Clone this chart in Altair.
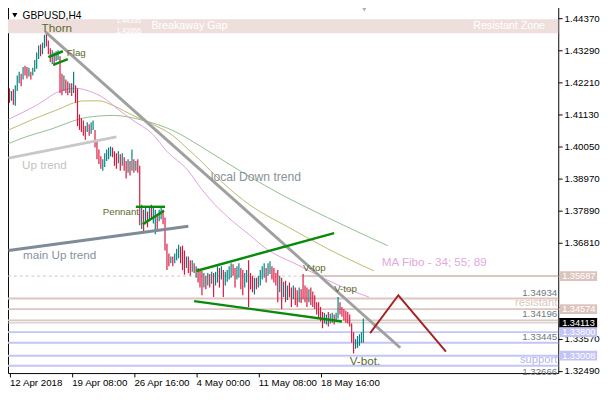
import altair as alt
import pandas as pd

# ---------------- values ----------------
bar_high = [
    1.4201, 1.4192, 1.4198, 1.4211, 1.4244, 1.4257, 1.4250, 1.4273, 1.4277, 1.4273,
    1.4270, 1.4257, 1.4270, 1.4296, 1.4322, 1.4345, 1.4349, 1.4355, 1.4381, 1.4388,
    1.4362, 1.4336, 1.4329, 1.4322, 1.4326, 1.4329, 1.4309, 1.4250, 1.4244, 1.4231,
    1.4224, 1.4218, 1.4218, 1.4257, 1.4211, 1.4201, 1.4113, 1.4100, 1.4093, 1.4074,
    1.4087, 1.4080, 1.4087, 1.4093, 1.4061, 1.4021, 1.3995, 1.3972, 1.3962, 1.3982,
    1.3995, 1.4002, 1.4005, 1.4002, 1.3989, 1.3982, 1.3989, 1.3979, 1.3982, 1.3969,
    1.3956, 1.3962, 1.3956, 1.3995, 1.3962, 1.3956, 1.3962, 1.3940, 1.3809, 1.3792,
    1.3802, 1.3786, 1.3799, 1.3809, 1.3799, 1.3792, 1.3776, 1.3792, 1.3799, 1.3792,
    1.3766, 1.3678, 1.3645, 1.3635, 1.3635, 1.3645, 1.3661, 1.3674, 1.3668, 1.3671,
    1.3655, 1.3635, 1.3635, 1.3622, 1.3622, 1.3612, 1.3602, 1.3596, 1.3589, 1.3586,
    1.3579, 1.3570, 1.3579, 1.3576, 1.3583, 1.3579, 1.3583, 1.3602, 1.3596, 1.3602,
    1.3589, 1.3583, 1.3589, 1.3602, 1.3612, 1.3609, 1.3596, 1.3602, 1.3612, 1.3596,
    1.3589, 1.3579, 1.3589, 1.3622, 1.3579, 1.3570, 1.3563, 1.3563, 1.3570, 1.3589,
    1.3602, 1.3612, 1.3596, 1.3612, 1.3619, 1.3602, 1.3596, 1.3579, 1.3589, 1.3570,
    1.3563, 1.3550, 1.3553, 1.3537, 1.3547, 1.3530, 1.3537, 1.3530, 1.3521, 1.3530,
    1.3524, 1.3576, 1.3537, 1.3530, 1.3524, 1.3530, 1.3517, 1.3504, 1.3481, 1.3481,
    1.3465, 1.3448, 1.3445, 1.3439, 1.3448, 1.3442, 1.3445, 1.3439, 1.3445, 1.3498,
    1.3481, 1.3465, 1.3458, 1.3452, 1.3448, 1.3439, 1.3409, 1.3380, 1.3357, 1.3367,
    1.3373, 1.3380, 1.3426,
]
bar_low = [
    1.4152, 1.4159, 1.4146, 1.4142, 1.4192, 1.4218, 1.4208, 1.4231, 1.4244, 1.4234,
    1.4241, 1.4231, 1.4244, 1.4257, 1.4267, 1.4300, 1.4309, 1.4316, 1.4336, 1.4342,
    1.4316, 1.4290, 1.4283, 1.4277, 1.4293, 1.4296, 1.4185, 1.4178, 1.4192, 1.4185,
    1.4178, 1.4185, 1.4175, 1.4185, 1.4152, 1.4074, 1.4061, 1.4054, 1.4041, 1.4028,
    1.4054, 1.4041, 1.4048, 1.4061, 1.4002, 1.3962, 1.3946, 1.3930, 1.3923, 1.3936,
    1.3956, 1.3962, 1.3972, 1.3969, 1.3940, 1.3930, 1.3949, 1.3923, 1.3940, 1.3923,
    1.3897, 1.3917, 1.3907, 1.3923, 1.3917, 1.3923, 1.3917, 1.3740, 1.3727, 1.3720,
    1.3743, 1.3733, 1.3753, 1.3760, 1.3746, 1.3710, 1.3720, 1.3753, 1.3760, 1.3743,
    1.3655, 1.3589, 1.3602, 1.3612, 1.3602, 1.3612, 1.3622, 1.3629, 1.3612, 1.3589,
    1.3573, 1.3596, 1.3579, 1.3570, 1.3583, 1.3579, 1.3563, 1.3547, 1.3530, 1.3504,
    1.3530, 1.3524, 1.3537, 1.3530, 1.3543, 1.3498, 1.3537, 1.3547, 1.3530, 1.3557,
    1.3498, 1.3537, 1.3550, 1.3557, 1.3563, 1.3570, 1.3530, 1.3557, 1.3563, 1.3524,
    1.3504, 1.3530, 1.3547, 1.3465, 1.3524, 1.3514, 1.3507, 1.3524, 1.3530, 1.3537,
    1.3557, 1.3563, 1.3547, 1.3570, 1.3576, 1.3557, 1.3547, 1.3537, 1.3481, 1.3514,
    1.3458, 1.3498, 1.3481, 1.3488, 1.3498, 1.3465, 1.3491, 1.3471, 1.3465, 1.3481,
    1.3478, 1.3491, 1.3481, 1.3465, 1.3481, 1.3471, 1.3465, 1.3458, 1.3439, 1.3426,
    1.3416, 1.3393, 1.3409, 1.3406, 1.3399, 1.3409, 1.3412, 1.3406, 1.3416, 1.3426,
    1.3439, 1.3432, 1.3419, 1.3412, 1.3409, 1.3399, 1.3344, 1.3308, 1.3324, 1.3327,
    1.3334, 1.3344, 1.3344,
]
bar_dir = list(
    "duduuudud" "duduuuuduud"
    "dduduuddud" "dududddddd"
    "uduudddduu" "uuudddudud"
    "dudududdud" "ududuuduud"
    "ddduduuudd" "duddududdd"
    "udududuudu" "duuuudduud"
    "duuddduduu" "uuduuddddu"
    "dududduddu" "dddduddddd"
    "dduuduuduu" "dddddddduu" "uuu"
)

ma34_i = [-0.5, 13.5, 26, 33.5, 41, 48.5, 56, 63.5, 73.5, 81, 92, 98.5, 103.5, 112, 123.5, 132, 148.5, 168.5, 185]
ma34_p = [1.40966, 1.41424, 1.41915, 1.42014, 1.41915, 1.41686, 1.41294, 1.40934, 1.40475, 1.39886,
          1.39231, 1.38642, 1.38249, 1.37693, 1.37071, 1.36613, 1.36056, 1.35401, 1.34976]
ma55_i = [-0.5, 11, 23.5, 38.5, 46, 53.5, 63.5, 73.5, 83.5, 92, 98.5, 108.5, 123.5, 143.5, 163.5, 187.5]
ma55_p = [1.40606, 1.40934, 1.41261, 1.41588, 1.41588, 1.41424, 1.41097, 1.40802, 1.40442, 1.39951,
          1.39559, 1.38904, 1.38086, 1.37333, 1.36613, 1.35860]
ma89_i = [-0.5, 8.5, 20, 40, 53.5, 68.5, 83.5, 98.5, 118.5, 138.5, 163.5, 194.5]
ma89_p = [1.40148, 1.40377, 1.40606, 1.41032, 1.41097, 1.40934, 1.40606, 1.40050, 1.39231, 1.38478,
          1.37660, 1.36711]

down_i, down_p = [18.5, 201], [1.43912, 1.33274]
up_i, up_p = [-0.5, 55], [1.39657, 1.40377]
mainup_i, mainup_p = [-0.5, 92], [1.36547, 1.37366]
green_id = ["flag1", "flag1", "flag2", "flag2", "pen1", "pen1", "pen2", "pen2", "thi", "thi", "tlo", "tlo"]
green_i = [20, 27.5, 22.5, 30, 65, 80, 68.5, 79.5, 96, 167, 95, 171]
green_p = [1.43061, 1.43258, 1.42799, 1.42996, 1.38020, 1.38020, 1.37431, 1.37889,
           1.35860, 1.37136, 1.34845, 1.34158]
proj_i = [185.5, 200, 224.5]
proj_p = [1.33765, 1.35041, 1.33142]

zone_top, zone_bot = 1.44335, 1.43866
res_levels = [1.34934, 1.34574, 1.34196]
sup_levels = [1.33800, 1.33445, 1.33008, 1.32666]
dash_level = 1.35687
dash_solid_from = 151
bid_level = 1.34113

y_ticks = [1.44370, 1.43290, 1.42210, 1.41130, 1.40050, 1.38970, 1.37890, 1.36810,
           1.35730, 1.34650, 1.33570, 1.32490]
y_hidden = [1.35730, 1.34650]   # covered by the price boxes in the picture
x_tick_i = [0, 32, 64, 96, 128, 160]
x_tick_labels = ["12 Apr 2018", "19 Apr 08:00", "26 Apr 16:00", "4 May 00:00", "11 May 08:00", "18 May 16:00"]

box_p = [1.35687, 1.34574, 1.34113, 1.33800, 1.33008]
box_t = ["1.35687", "1.34574", "1.34113", "1.33800", "1.33008"]
box_c = ["#dcc4be", "#dcc4be", "#000000", "#c4c4f4", "#c4c4f4"]

right_p = [1.34934, 1.34574, 1.34196, 1.33445, 1.32666]
right_t = ["1.34934", "resistant", "1.34196", "1.33445", "support"]

# ---------------- chart ----------------
W, H = 566, 377
FONT = "Liberation Sans"
RED, TEAL = "#dc143c", "#008080"
ROSY, LAV = "#dcc6c0", "#c4c4f6"
OLIVE = "#5b6a2a"

xs = alt.Scale(domain=[-0.75, 282.25], nice=False, zero=False)
ys = alt.Scale(domain=[1.32422, 1.44763], nice=False, zero=False)
label_expr = " : ".join(f"datum.value == {v} ? '{t}'" for v, t in zip(x_tick_i, x_tick_labels)) + " : ''"
hide_expr = " || ".join(f"abs(datum.value - {v}) < 0.000001" for v in y_hidden)
y_label_expr = f"({hide_expr}) ? '' : format(datum.value, '.5f')"
xaxis = alt.Axis(values=x_tick_i, labelExpr=label_expr, orient="bottom", title=None, grid=False,
                 domain=False, tickSize=4, tickColor="black", labelAlign="left", labelFont=FONT,
                 labelFontSize=10, labelColor="black", labelPadding=1, labelFlush=False,
                 labelOverlap=False, labelBound=False)
yaxis = alt.Axis(values=y_ticks, labelExpr=y_label_expr, orient="right", title=None, grid=False, domain=False,
                 tickSize=4, tickColor="black", labelFont=FONT, labelFontSize=10, labelColor="black",
                 labelPadding=2, labelOverlap=False, labelFlush=False)
X = alt.X("i:Q", scale=xs, axis=xaxis)
Y = alt.Y("p:Q", scale=ys, axis=yaxis)

layers = []

zone = alt.Chart(pd.DataFrame({"p": [zone_top], "p2": [zone_bot]})).mark_rect(color="#efdfdc").encode(
    y=Y, y2="p2:Q", x=alt.value(0), x2=alt.value(W))
layers.append(zone)

dash = alt.Chart(pd.DataFrame({"p": [dash_level]})).mark_rule(color="#dcbcbc", strokeDash=[3, 3], strokeWidth=1).encode(
    y=Y, x=alt.value(0), x2=alt.value(W))
dash_solid = alt.Chart(pd.DataFrame({"p": [dash_level], "i": [dash_solid_from]})).mark_rule(color=ROSY, strokeWidth=2).encode(
    y=Y, x=X, x2=alt.value(W))
res = alt.Chart(pd.DataFrame({"p": res_levels})).mark_rule(color=ROSY, strokeWidth=2).encode(
    y=Y, x=alt.value(0), x2=alt.value(W))
sup = alt.Chart(pd.DataFrame({"p": sup_levels})).mark_rule(color=LAV, strokeWidth=2).encode(
    y=Y, x=alt.value(0), x2=alt.value(W))
bid = alt.Chart(pd.DataFrame({"p": [bid_level]})).mark_rule(color="#c0c0c0", strokeWidth=1).encode(
    y=Y, x=alt.value(0), x2=alt.value(W))
layers += [dash, dash_solid, res, sup, bid]


def line_df(ii, pp, g="a"):
    return pd.DataFrame({"i": ii, "p": pp, "g": [g] * len(ii) if isinstance(g, str) else g})


for ii, pp, col in [(ma89_i, ma89_p, "#8fbc8f"), (ma55_i, ma55_p, "#bdb76b"), (ma34_i, ma34_p, "#dda0dd")]:
    layers.append(alt.Chart(line_df(ii, pp)).mark_line(color=col, strokeWidth=1, interpolate="monotone").encode(x=X, y=Y))

cdf = pd.DataFrame({"i": list(range(len(bar_high))), "p": bar_high, "p2": bar_low, "dir": bar_dir})
candles = alt.Chart(cdf).mark_rule(strokeWidth=1.2).encode(
    x=X, y=Y, y2="p2:Q",
    color=alt.Color("dir:N", scale=alt.Scale(domain=["u", "d"], range=[TEAL, RED]), legend=None))
layers.append(candles)

layers.append(alt.Chart(line_df(up_i, up_p)).mark_line(color="#c8c8c8", strokeWidth=3).encode(x=X, y=Y))
layers.append(alt.Chart(line_df(mainup_i, mainup_p)).mark_line(color="#7f8b98", strokeWidth=3).encode(x=X, y=Y))
layers.append(alt.Chart(line_df(down_i, down_p)).mark_line(color="#a0a0a0", strokeWidth=3).encode(x=X, y=Y))
layers.append(alt.Chart(line_df(green_i, green_p, green_id)).mark_line(color="#0a8a0a", strokeWidth=2.5).encode(
    x=X, y=Y, detail="g:N"))
layers.append(alt.Chart(line_df(proj_i, proj_p)).mark_line(color="#a32424", strokeWidth=2).encode(x=X, y=Y))


def txt(t, i, p, size, color, align="left", baseline="middle", dy=0):
    df = pd.DataFrame({"i": [i], "p": [p], "t": [t]})
    return alt.Chart(df).mark_text(font=FONT, fontSize=size, color=color, align=align,
                                   baseline=baseline, dy=dy).encode(x=X, y=Y, text="t:N")


layers += [
    txt("Thorn", 16.5, 1.44043, 12, OLIVE),
    txt("Flag", 29.5, 1.43192, 10, OLIVE),
    txt("Pennant", 48, 1.37834, 10, OLIVE),
    txt("local Down trend", 103.5, 1.39035, 12.5, "#8a929a"),
    txt("Up trend", 6.5, 1.39428, 12, "#c3c3c3"),
    txt("main Up trend", 7, 1.36384, 12, "#8792a0"),
    txt("V-top", 151, 1.35958, 10, OLIVE),
    txt("V-top", 167, 1.35248, 10, OLIVE),
    txt("V-bot.", 175, 1.32816, 12, OLIVE),
    txt("MA Fibo - 34; 55; 89", 191.5, 1.36171, 12, "#e4a8e0"),
    txt("1.44335", 55, zone_top, 7, "white", baseline="top", dy=-2),
    txt("1.43866", 55, zone_bot, 7, "white", baseline="bottom", dy=1),
    txt("Breakaway Gap", 73, (zone_top + zone_bot) / 2, 11, "white"),
    txt("Resistant Zone", 238.5, (zone_top + zone_bot) / 2, 11, "white"),
]

rdf = pd.DataFrame({"p": right_p, "t": right_t,
                    "c": ["#6f7880", ROSY, "#6f7880", "#6f7880", "#b4b4ec"],
                    "s": [10, 11.5, 10, 10, 11.5]})
layers.append(alt.Chart(rdf).mark_text(font=FONT, align="right", baseline="bottom", dy=-1).encode(
    y=Y, x=alt.value(W - 1), text="t:N", color=alt.Color("c:N", scale=None), size=alt.Size("s:Q", scale=None)))
layers.append(txt("1.32666", 0, 1.32666, 10, "#6f7880").encode(x=alt.value(W - 1)).mark_text(
    font=FONT, fontSize=10, color="#6f7880", align="right", baseline="top", dy=1))

bdf = pd.DataFrame({"p": box_p, "t": box_t, "c": box_c})
layers.append(alt.Chart(bdf).mark_rule(strokeWidth=10, clip=False).encode(
    y=Y, x=alt.value(W + 1), x2=alt.value(W + 40), color=alt.Color("c:N", scale=None)))
layers.append(alt.Chart(bdf).mark_text(font=FONT, fontSize=9.5, color="white", align="left", clip=False).encode(
    y=Y, x=alt.value(W + 4), text="t:N"))

head = pd.DataFrame({"t": ["GBPUSD,H4"]})
layers.append(alt.Chart(head).mark_point(shape="triangle-down", filled=True, size=28, color="black", opacity=1).encode(
    x=alt.value(7), y=alt.value(9)))
layers.append(alt.Chart(head).mark_text(font=FONT, fontSize=10.5, color="black", align="left").encode(
    x=alt.value(15), y=alt.value(10), text="t:N"))
layers.append(alt.Chart(pd.DataFrame({"i": [182.5]})).mark_point(shape="triangle-down", filled=True, size=25,
                                                                  color="#b0b0b0", opacity=1).encode(
    x=X, y=alt.value(3)))

chart = alt.layer(*layers).properties(
    width=W, height=H, padding={"left": -6, "top": -7, "right": 0, "bottom": 0}
).configure(background="white").configure_view(stroke="black", strokeWidth=1)

chart.save("out.html", embed_options={"renderer": "svg", "actions": False})
